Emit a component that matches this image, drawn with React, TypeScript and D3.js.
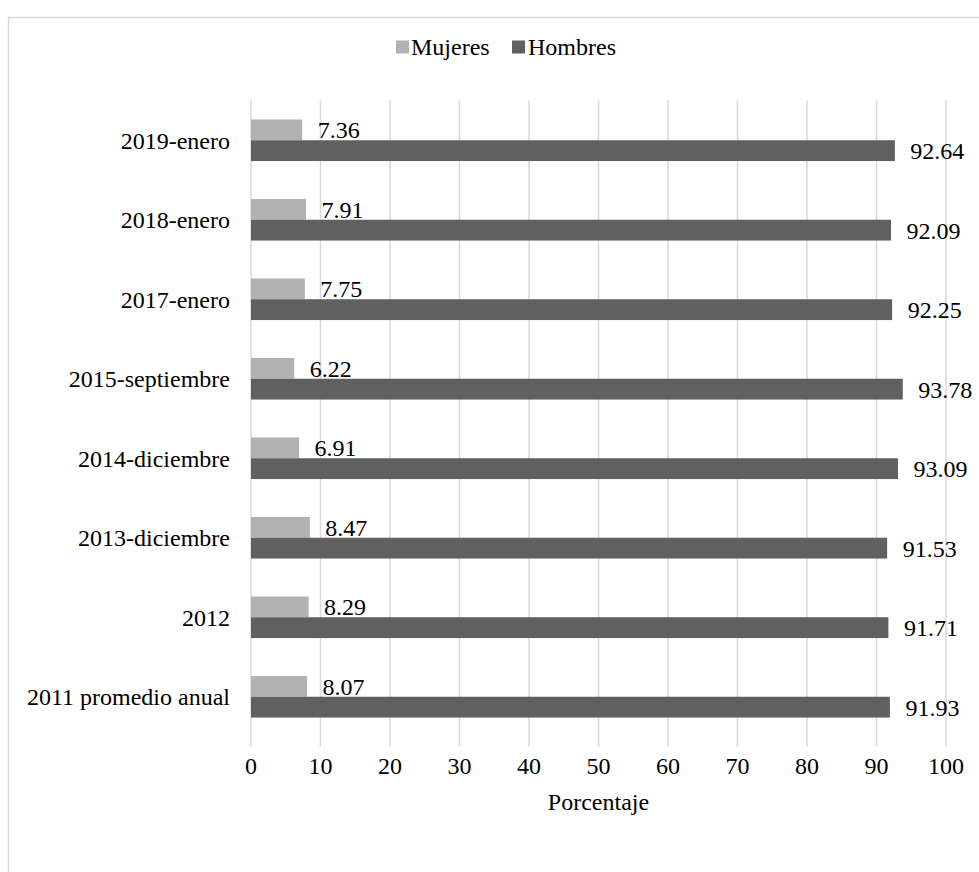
import React from 'react';
import * as d3 from 'd3';

const categories = [
  '2019-enero',
  '2018-enero',
  '2017-enero',
  '2015-septiembre',
  '2014-diciembre',
  '2013-diciembre',
  '2012',
  '2011 promedio anual',
];
const mujeres = [7.36, 7.91, 7.75, 6.22, 6.91, 8.47, 8.29, 8.07];
const hombres = [92.64, 92.09, 92.25, 93.78, 93.09, 91.53, 91.71, 91.93];
const seriesNames = ['Mujeres', 'Hombres'];
const xTicks = [0, 10, 20, 30, 40, 50, 60, 70, 80, 90, 100];
const axisTitle = 'Porcentaje';

const W = 979;
const H = 872;
const FONT = '"Liberation Serif", "Times New Roman", serif';
const colors: Record<string, string> = { Mujeres: '#b2b2b2', Hombres: '#606060' };
const GRID = '#d9d9d9';

export default function App() {
  const x = d3.scaleLinear().domain([0, 100]).range([251, 946]);
  const y = d3.scaleBand<string>().domain(categories).range([100.5, 736.5]).padding(0);
  const bw = y.bandwidth();
  const pair = 41.6;
  const inner = d3
    .scaleBand<string>()
    .domain(seriesNames)
    .range([(bw - pair) / 2, (bw + pair) / 2])
    .padding(0);
  const values: Record<string, number[]> = { Mujeres: mujeres, Hombres: hombres };
  const plotTop = y.range()[0];
  const plotBottom = y.range()[1];

  const legendItems = [
    { name: 'Mujeres', sx: 396, tx: 411 },
    { name: 'Hombres', sx: 512, tx: 528 },
  ];

  return (
    <svg
      width={W}
      height={H}
      style={{ position: 'absolute', left: 0, top: 0, display: 'block', background: '#fff' }}
      fontFamily={FONT}
    >
      <rect x={0} y={0} width={W} height={H} fill="#fff" />
      {/* chart border (extends beyond image on right/bottom) */}
      <path d={`M8.5,${H + 5} V17.5 H${W + 5}`} fill="none" stroke={GRID} strokeWidth={1.5} />

      {/* gridlines */}
      {xTicks.map((t) => (
        <line
          key={'g' + t}
          x1={x(t)}
          x2={x(t)}
          y1={plotTop}
          y2={plotBottom + 10}
          stroke={GRID}
          strokeWidth={1.5}
        />
      ))}

      {/* bars */}
      {categories.map((c, i) => (
        <g key={c} transform={`translate(0,${y(c)})`}>
          {seriesNames.map((s) => {
            const v = values[s][i];
            const by = inner(s)!;
            const bh = inner.bandwidth();
            return (
              <g key={s}>
                <rect x={x(0)} y={by} width={x(v) - x(0)} height={bh} fill={colors[s]} />
                <text
                  x={x(v) + 15.5}
                  y={by + bh / 2}
                  dy="0.36em"
                  fontSize={24}
                  fill="#000"
                >
                  {v.toFixed(2)}
                </text>
              </g>
            );
          })}
          <text x={230} y={bw / 2} dy="0.35em" textAnchor="end" fontSize={24} fill="#000">
            {c}
          </text>
        </g>
      ))}

      {/* x tick labels */}
      {xTicks.map((t) => (
        <text key={'t' + t} x={x(t)} y={774} textAnchor="middle" fontSize={24} fill="#000">
          {t}
        </text>
      ))}
      <text x={x(50)} y={810} textAnchor="middle" fontSize={24} fill="#000">
        {axisTitle}
      </text>

      {/* legend */}
      {legendItems.map((l) => (
        <g key={l.name}>
          <rect x={l.sx} y={40.5} width={13} height={13} fill={colors[l.name]} />
          <text x={l.tx} y={55} fontSize={24} fill="#000">
            {l.name}
          </text>
        </g>
      ))}
    </svg>
  );
}
